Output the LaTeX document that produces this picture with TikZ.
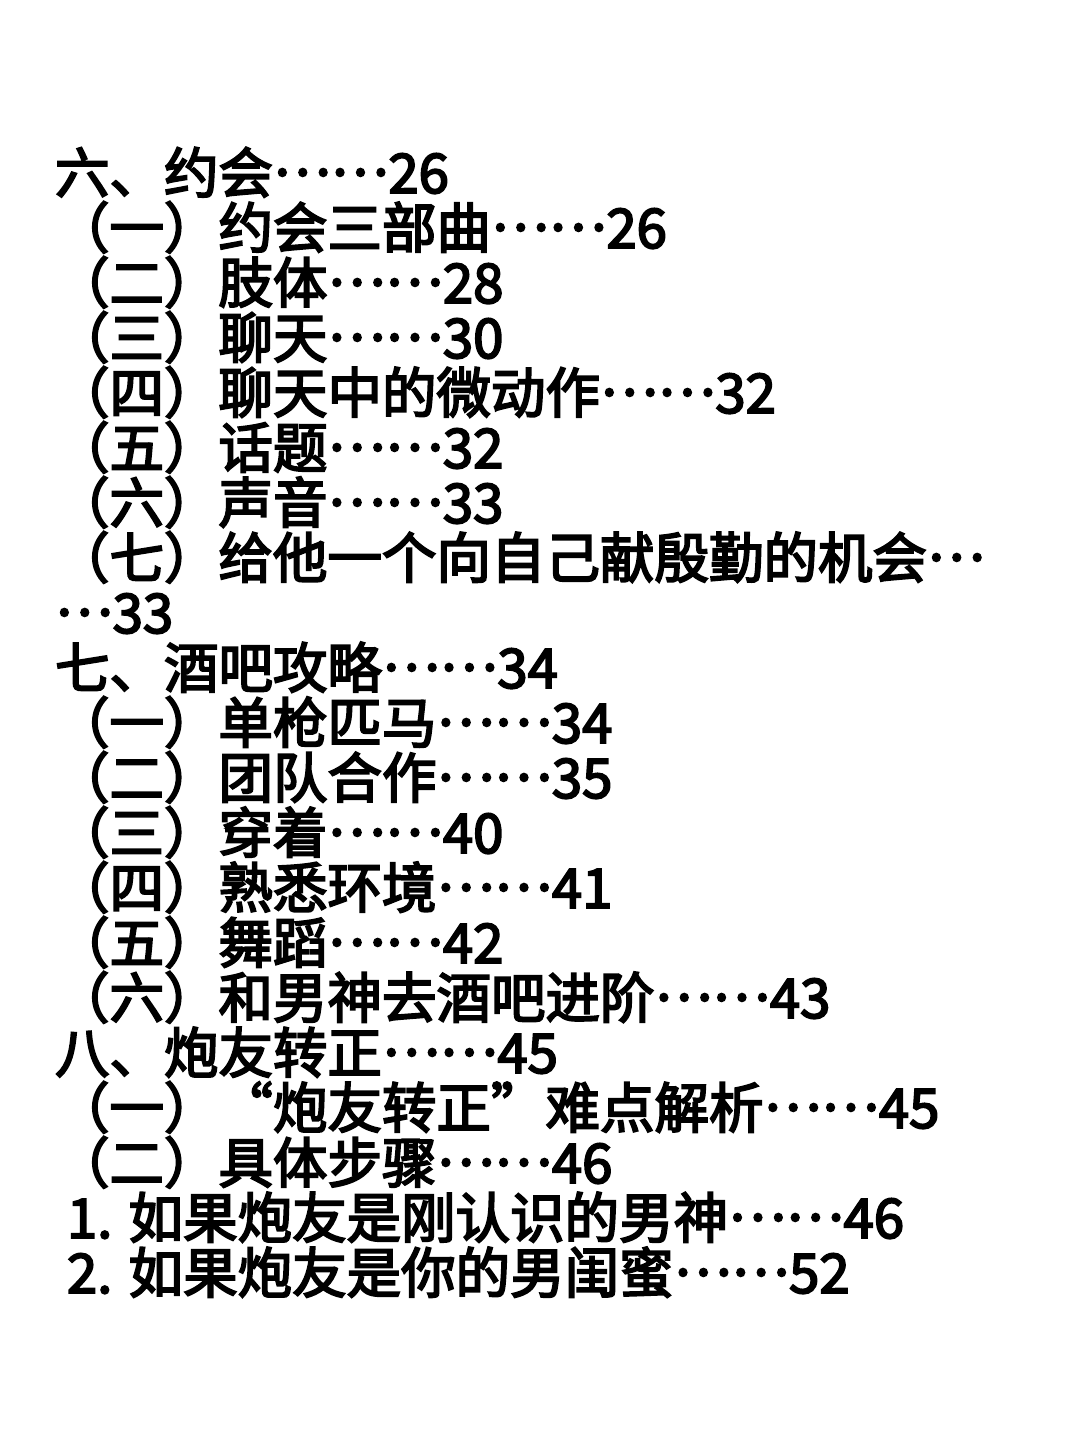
\documentclass[tikz,border=0pt]{standalone}
\usepackage{fontspec}
\setmainfont{Noto Sans CJK SC}
\newfontfamily\tocfont{Noto Sans CJK SC}[FakeBold=3.5]
\newcommand{\dts}[1]{\raisebox{0.32em}{#1}}
\begin{document}
\begin{tikzpicture}[x=1pt,y=1pt,
  tocline/.style={anchor=base west,inner sep=0pt,outer sep=0pt,font=\fontsize{54.5}{55}\tocfont,text=black}]
\useasboundingbox[fill=white] (0,0) rectangle (1080,1440);
\node[tocline] (l1) at (55,1247) {六、约会\dts{……}26};
\node[tocline] (l2) at (55,1192) {（一）约会三部曲\dts{……}26};
\node[tocline] (l3) at (55,1137) {（二）肢体\dts{……}28};
\node[tocline] (l4) at (55,1082) {（三）聊天\dts{……}30};
\node[tocline] (l5) at (55,1027) {（四）聊天中的微动作\dts{……}32};
\node[tocline] (l6) at (55,972) {（五）话题\dts{……}32};
\node[tocline] (l7) at (55,917) {（六）声音\dts{……}33};
\node[tocline] (l8) at (55,862) {（七）给他一个向自己献殷勤的机会\dts{…}};
\node[tocline] (l9) at (55,807) {\dts{…}33};
\node[tocline] (l10) at (55,752) {七、酒吧攻略\dts{……}34};
\node[tocline] (l11) at (55,697) {（一）单枪匹马\dts{……}34};
\node[tocline] (l12) at (55,642) {（二）团队合作\dts{……}35};
\node[tocline] (l13) at (55,587) {（三）穿着\dts{……}40};
\node[tocline] (l14) at (55,532) {（四）熟悉环境\dts{……}41};
\node[tocline] (l15) at (55,477) {（五）舞蹈\dts{……}42};
\node[tocline] (l16) at (55,422) {（六）和男神去酒吧进阶\dts{……}43};
\node[tocline] (l17) at (55,367) {八、炮友转正\dts{……}45};
\node[tocline] (l18) at (55,312) {（一）“炮友转正”难点解析\dts{……}45};
\node[tocline] (l19) at (55,257) {（二）具体步骤\dts{……}46};
\node[tocline] (l20) at (67,202) {1. 如果炮友是刚认识的男神\dts{……}46};
\node[tocline] (l21) at (67,147) {2. 如果炮友是你的男闺蜜\dts{……}52};
\end{tikzpicture}
\end{document}
